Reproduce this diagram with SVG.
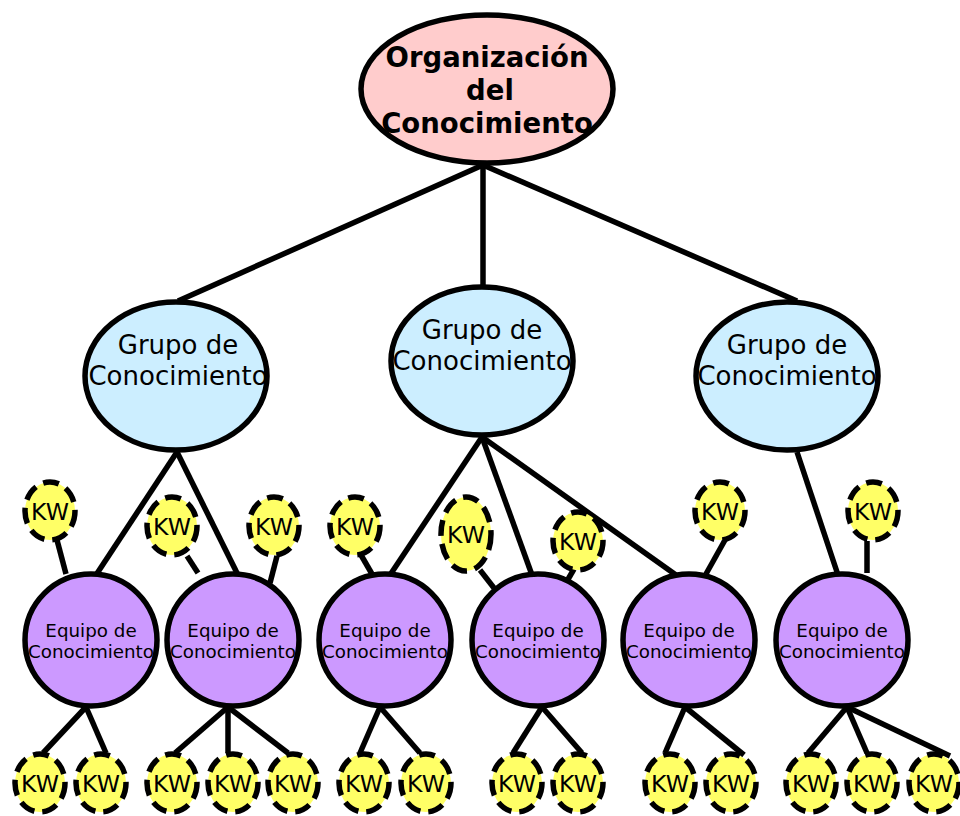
<svg xmlns="http://www.w3.org/2000/svg" width="960" height="816" viewBox="0 0 960 816">
<style>
text{font-family:"DejaVu Sans","Liberation Sans",sans-serif;fill:#000;text-anchor:middle}
.org{fill:#ffcccc;stroke:#000;stroke-width:5.5}
.grp{fill:#cceeff;stroke:#000;stroke-width:5.5}
.eq{fill:#cc99ff;stroke:#000;stroke-width:5.5}
.kw{fill:#ffff66;stroke:#000;stroke-width:5.5;stroke-dasharray:16 8}
.t1{font-size:27.5px;font-weight:bold}
.t2{font-size:26px}
.t3{font-size:18.3px}
.t4{font-size:23.5px}
#connectors line{stroke:#000;stroke-width:5.5}
</style>
<rect width="960" height="816" fill="#fff"/>
<g id="connectors">
<line x1="483" y1="165" x2="178" y2="301"/>
<line x1="483" y1="165" x2="483" y2="287"/>
<line x1="483" y1="165" x2="797" y2="301"/>
<line x1="177" y1="452" x2="96" y2="575"/>
<line x1="177" y1="452" x2="238" y2="575"/>
<line x1="482" y1="437" x2="390" y2="575"/>
<line x1="482" y1="437" x2="532" y2="575"/>
<line x1="482" y1="437" x2="676" y2="575"/>
<line x1="797" y1="452" x2="838" y2="575"/>
<line x1="57" y1="540" x2="66" y2="574"/>
<line x1="187" y1="556" x2="198" y2="573"/>
<line x1="277" y1="556" x2="270" y2="583"/>
<line x1="361" y1="555" x2="372" y2="574"/>
<line x1="480" y1="570" x2="494" y2="588"/>
<line x1="574" y1="569" x2="563" y2="588"/>
<line x1="725" y1="540" x2="706" y2="574"/>
<line x1="867" y1="541" x2="867" y2="573"/>
<line x1="86" y1="707" x2="43" y2="753"/>
<line x1="86" y1="707" x2="106" y2="753"/>
<line x1="228" y1="707" x2="175" y2="753"/>
<line x1="228" y1="707" x2="228" y2="753"/>
<line x1="228" y1="707" x2="288" y2="753"/>
<line x1="380" y1="707" x2="360" y2="753"/>
<line x1="380" y1="707" x2="420" y2="753"/>
<line x1="542" y1="707" x2="513" y2="753"/>
<line x1="542" y1="707" x2="582" y2="753"/>
<line x1="685" y1="707" x2="665" y2="753"/>
<line x1="685" y1="707" x2="744" y2="755"/>
<line x1="847" y1="707" x2="808" y2="753"/>
<line x1="847" y1="707" x2="867" y2="753"/>
<line x1="847" y1="707" x2="950" y2="756"/>
</g>
<g id="org">
<ellipse class="org" cx="487" cy="89" rx="126" ry="74"/>
<text class="t1" x="487" y="67">Organización</text>
<text class="t1" x="490" y="100">del</text>
<text class="t1" x="487" y="133">Conocimiento</text>
</g>
<g id="grupo1"><ellipse class="grp" cx="176" cy="376" rx="91" ry="74"/><text class="t2" x="178" y="354">Grupo de</text><text class="t2" x="178" y="385">Conocimiento</text></g>
<g id="grupo2"><ellipse class="grp" cx="482" cy="361" rx="91" ry="74"/><text class="t2" x="482" y="339">Grupo de</text><text class="t2" x="482" y="370">Conocimiento</text></g>
<g id="grupo3"><ellipse class="grp" cx="787" cy="376" rx="91" ry="74"/><text class="t2" x="787" y="354">Grupo de</text><text class="t2" x="787" y="385">Conocimiento</text></g>
<g id="equipo1"><circle class="eq" cx="91" cy="640" r="66"/><text class="t3" x="91" y="637">Equipo de</text><text class="t3" x="91" y="658">Conocimiento</text></g>
<g id="equipo2"><circle class="eq" cx="233" cy="640" r="66"/><text class="t3" x="233" y="637">Equipo de</text><text class="t3" x="233" y="658">Conocimiento</text></g>
<g id="equipo3"><circle class="eq" cx="385" cy="640" r="66"/><text class="t3" x="385" y="637">Equipo de</text><text class="t3" x="385" y="658">Conocimiento</text></g>
<g id="equipo4"><circle class="eq" cx="538" cy="640" r="66"/><text class="t3" x="538" y="637">Equipo de</text><text class="t3" x="538" y="658">Conocimiento</text></g>
<g id="equipo5"><circle class="eq" cx="689" cy="640" r="66"/><text class="t3" x="689" y="637">Equipo de</text><text class="t3" x="689" y="658">Conocimiento</text></g>
<g id="equipo6"><circle class="eq" cx="842" cy="640" r="66"/><text class="t3" x="842" y="637">Equipo de</text><text class="t3" x="842" y="658">Conocimiento</text></g>
<g id="kw-t1"><ellipse class="kw" cx="50" cy="511" rx="25" ry="29"/><text class="t4" x="50" y="520">KW</text></g>
<g id="kw-t2"><ellipse class="kw" cx="172" cy="526" rx="25" ry="29"/><text class="t4" x="172" y="535">KW</text></g>
<g id="kw-t3"><ellipse class="kw" cx="274" cy="526" rx="25" ry="29"/><text class="t4" x="274" y="535">KW</text></g>
<g id="kw-t4"><ellipse class="kw" cx="355" cy="526" rx="25" ry="29"/><text class="t4" x="355" y="535">KW</text></g>
<g id="kw-t5"><ellipse class="kw" cx="466" cy="534" rx="25" ry="37"/><text class="t4" x="466" y="543">KW</text></g>
<g id="kw-t6"><ellipse class="kw" cx="578" cy="541" rx="25" ry="29"/><text class="t4" x="578" y="550">KW</text></g>
<g id="kw-t7"><ellipse class="kw" cx="720" cy="511" rx="25" ry="29"/><text class="t4" x="720" y="520">KW</text></g>
<g id="kw-t8"><ellipse class="kw" cx="873" cy="511" rx="25" ry="29"/><text class="t4" x="873" y="520">KW</text></g>
<g id="kw-b1"><ellipse class="kw" cx="40" cy="783" rx="25" ry="29"/><text class="t4" x="40" y="792">KW</text></g>
<g id="kw-b2"><ellipse class="kw" cx="101" cy="783" rx="25" ry="29"/><text class="t4" x="101" y="792">KW</text></g>
<g id="kw-b3"><ellipse class="kw" cx="172" cy="783" rx="25" ry="29"/><text class="t4" x="172" y="792">KW</text></g>
<g id="kw-b4"><ellipse class="kw" cx="233" cy="783" rx="25" ry="29"/><text class="t4" x="233" y="792">KW</text></g>
<g id="kw-b5"><ellipse class="kw" cx="293" cy="783" rx="25" ry="29"/><text class="t4" x="293" y="792">KW</text></g>
<g id="kw-b6"><ellipse class="kw" cx="364" cy="783" rx="25" ry="29"/><text class="t4" x="364" y="792">KW</text></g>
<g id="kw-b7"><ellipse class="kw" cx="426" cy="783" rx="25" ry="29"/><text class="t4" x="426" y="792">KW</text></g>
<g id="kw-b8"><ellipse class="kw" cx="517" cy="783" rx="25" ry="29"/><text class="t4" x="517" y="792">KW</text></g>
<g id="kw-b9"><ellipse class="kw" cx="578" cy="783" rx="25" ry="29"/><text class="t4" x="578" y="792">KW</text></g>
<g id="kw-b10"><ellipse class="kw" cx="670" cy="783" rx="25" ry="29"/><text class="t4" x="670" y="792">KW</text></g>
<g id="kw-b11"><ellipse class="kw" cx="731" cy="783" rx="25" ry="29"/><text class="t4" x="731" y="792">KW</text></g>
<g id="kw-b12"><ellipse class="kw" cx="811" cy="783" rx="25" ry="29"/><text class="t4" x="811" y="792">KW</text></g>
<g id="kw-b13"><ellipse class="kw" cx="872" cy="783" rx="25" ry="29"/><text class="t4" x="872" y="792">KW</text></g>
<g id="kw-b14"><ellipse class="kw" cx="934" cy="783" rx="25" ry="29"/><text class="t4" x="934" y="792">KW</text></g>
</svg>
